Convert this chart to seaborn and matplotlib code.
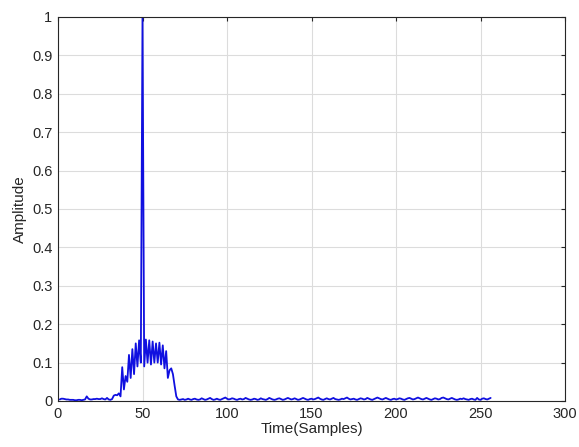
import numpy as np
import pandas as pd
import matplotlib
matplotlib.use("Agg")
import matplotlib.pyplot as plt
import seaborn as sns

# Amplitude values for samples 1..256
amp_head = [
    0.004, 0.006, 0.006, 0.005, 0.004, 0.004, 0.003, 0.003, 0.003, 0.002, 0.002, 0.003, 0.003, 0.002, 0.003, 0.004,
    0.012, 0.006, 0.004, 0.004, 0.005, 0.005, 0.006, 0.005, 0.005, 0.007, 0.005, 0.004, 0.008, 0.004, 0.003, 0.005,
    0.014, 0.016, 0.015, 0.020, 0.012, 0.088, 0.030, 0.065, 0.050, 0.120, 0.060, 0.135, 0.070, 0.150, 0.090, 0.158,
    0.100, 1.000, 0.090, 0.160, 0.100, 0.158, 0.095, 0.155, 0.100, 0.150, 0.100, 0.152, 0.095, 0.145, 0.085, 0.130,
    0.060, 0.080, 0.085, 0.070, 0.040, 0.012, 0.004, 0.003, 0.004, 0.005, 0.003, 0.004, 0.006, 0.004, 0.003, 0.005,
]
amp_tail = [
    0.006, 0.004, 0.003, 0.004, 0.007, 0.005, 0.003, 0.004, 0.006, 0.008, 0.005, 0.003, 0.004, 0.006, 0.004, 0.003,
    0.005, 0.007, 0.009, 0.006, 0.004, 0.005, 0.007, 0.006, 0.004, 0.003, 0.005, 0.006, 0.004, 0.005, 0.008, 0.006,
    0.004, 0.003, 0.004, 0.006, 0.005, 0.003, 0.004, 0.007, 0.005, 0.004, 0.003, 0.005, 0.008, 0.006, 0.004, 0.003,
    0.004, 0.006, 0.007, 0.005, 0.003, 0.004, 0.006, 0.008, 0.006, 0.004, 0.005, 0.007, 0.005, 0.003, 0.004, 0.006,
    0.008, 0.006, 0.004, 0.003, 0.005, 0.006, 0.004, 0.005, 0.007, 0.009, 0.006, 0.004, 0.003, 0.005, 0.007, 0.005,
    0.004, 0.006, 0.008, 0.005, 0.004, 0.003, 0.004, 0.006, 0.005, 0.007, 0.009, 0.006, 0.004, 0.005, 0.006, 0.004,
    0.003, 0.005, 0.007, 0.006, 0.004, 0.005, 0.008, 0.006, 0.004, 0.003, 0.005, 0.007, 0.009, 0.007, 0.005, 0.004,
    0.006, 0.008, 0.006, 0.004, 0.003, 0.005, 0.006, 0.004, 0.005, 0.007, 0.006, 0.004, 0.003, 0.005, 0.007, 0.008,
    0.006, 0.004, 0.005, 0.007, 0.009, 0.007, 0.005, 0.004, 0.006, 0.008, 0.006, 0.004, 0.003, 0.005, 0.007, 0.006,
    0.004, 0.005, 0.008, 0.009, 0.007, 0.005, 0.004, 0.006, 0.008, 0.006, 0.004, 0.003, 0.004, 0.006, 0.005, 0.007,
    0.005, 0.004, 0.003, 0.005, 0.006, 0.004, 0.003, 0.008, 0.004, 0.003, 0.006, 0.007, 0.005, 0.004, 0.006, 0.008,
]
amplitude = amp_head + amp_tail
samples = list(range(1, len(amplitude) + 1))

x_ticks = [0, 50, 100, 150, 200, 250, 300]
y_ticks = [0, 0.1, 0.2, 0.3, 0.4, 0.5, 0.6, 0.7, 0.8, 0.9, 1]
y_tick_labels = ["0", "0.1", "0.2", "0.3", "0.4", "0.5", "0.6", "0.7", "0.8", "0.9", "1"]

sns.set_style("whitegrid")
plt.rcParams["font.family"] = ["Liberation Sans", "DejaVu Sans"]

df = pd.DataFrame({"Time(Samples)": samples, "Amplitude": amplitude})

fig = plt.figure(figsize=(5.79, 4.47), dpi=100)
ax = fig.add_axes([58 / 579, 46 / 447, 507 / 579, 384 / 447])
sns.lineplot(data=df, x="Time(Samples)", y="Amplitude", color="#1010e0", linewidth=1.3, ax=ax)

ax.set_xlim(0, 300)
ax.set_ylim(0, 1)
ax.set_xticks(x_ticks)
ax.set_yticks(y_ticks)
ax.set_yticklabels(y_tick_labels)
ax.grid(True, color="#dcdcdc", linewidth=0.8)
for s in ax.spines.values():
    s.set_visible(True)
    s.set_color("#262626")
    s.set_linewidth(0.8)
ax.tick_params(axis="both", direction="in", length=3, labelsize=10.5, colors="#262626", pad=4)
ax.tick_params(top=True, right=True, labeltop=False, labelright=False)
ax.set_xlabel("Time(Samples)", fontsize=11, color="#262626", labelpad=1)
ax.set_ylabel("Amplitude", fontsize=11, color="#262626", labelpad=4)

fig.savefig("out.png", dpi=100, facecolor="white")
